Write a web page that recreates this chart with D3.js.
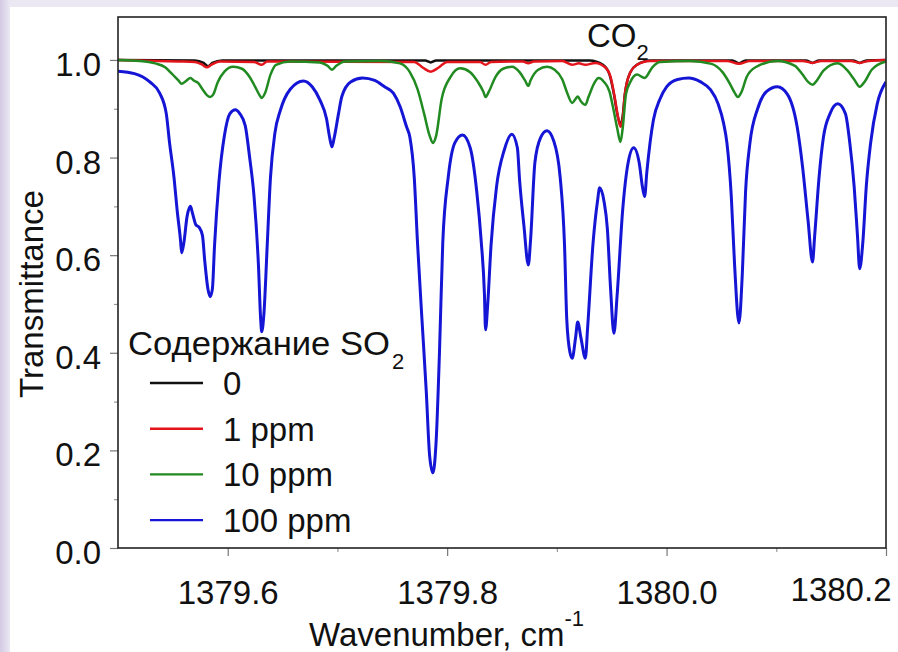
<!DOCTYPE html>
<meta charset="utf-8">
<style>
body { margin: 0; }
text { font-family: "Liberation Sans", Arial, sans-serif; fill: #111; }
.tick text { font-size: 33px; }
</style>
<body>
<script src="https://cdn.jsdelivr.net/npm/d3@7"></script>
<script>
// transmittance: [wavenumber, T]
const black0 = [[1379.500,1.0],[1379.570,0.999],[1379.578,0.994],[1379.582,0.987],[1379.586,0.994],[1379.595,0.999],[1379.780,0.999],[1379.785,0.995],[1379.790,0.999],[1379.930,0.999],[1379.942,0.99],[1379.948,0.97],[1379.952,0.93],[1379.955,0.89],[1379.958,0.868],[1379.960,0.885],[1379.962,0.93],[1379.967,0.975],[1379.973,0.99],[1379.985,0.999],[1380.060,0.999],[1380.066,0.993],[1380.072,0.999],[1380.127,0.999],[1380.133,0.994],[1380.139,0.999],[1380.170,0.999],[1380.176,0.994],[1380.182,0.999],[1380.200,1.0]];

const red1 = [[1379.500,1.0],[1379.555,0.997],[1379.570,0.996],[1379.577,0.99],[1379.581,0.985],[1379.585,0.99],[1379.593,0.997],[1379.624,0.996],[1379.631,0.99],[1379.636,0.997],[1379.770,0.996],[1379.778,0.984],[1379.785,0.976],[1379.792,0.984],[1379.800,0.996],[1379.830,0.996],[1379.835,0.99],[1379.840,0.996],[1379.869,0.997],[1379.874,0.993],[1379.879,0.997],[1379.905,0.998],[1379.914,0.99],[1379.920,0.993],[1379.926,0.99],[1379.935,0.994],[1379.944,0.985],[1379.949,0.965],[1379.953,0.92],[1379.956,0.88],[1379.958,0.863],[1379.960,0.88],[1379.962,0.93],[1379.967,0.975],[1379.973,0.99],[1379.985,0.998],[1380.055,0.998],[1380.066,0.992],[1380.076,0.998],[1380.124,0.998],[1380.133,0.994],[1380.141,0.998],[1380.168,0.998],[1380.176,0.994],[1380.184,0.998],[1380.200,1.0]];

const green10 = [[1379.500,1.0],[1379.520,0.998],[1379.534,0.993],[1379.543,0.985],[1379.549,0.972],[1379.555,0.958],[1379.558,0.951],[1379.562,0.957],[1379.566,0.963],[1379.569,0.958],[1379.573,0.953],[1379.577,0.94],[1379.581,0.928],[1379.584,0.924],[1379.587,0.93],[1379.591,0.955],[1379.597,0.976],[1379.605,0.986],[1379.613,0.982],[1379.620,0.965],[1379.625,0.945],[1379.629,0.928],[1379.631,0.922],[1379.634,0.932],[1379.639,0.97],[1379.644,0.99],[1379.657,0.997],[1379.684,0.995],[1379.691,0.988],[1379.695,0.98],[1379.699,0.988],[1379.707,0.997],[1379.739,0.998],[1379.757,0.993],[1379.766,0.975],[1379.773,0.94],[1379.779,0.89],[1379.784,0.845],[1379.787,0.83],[1379.790,0.845],[1379.795,0.92],[1379.803,0.965],[1379.812,0.983],[1379.821,0.975],[1379.828,0.955],[1379.833,0.935],[1379.835,0.924],[1379.838,0.935],[1379.844,0.965],[1379.851,0.982],[1379.859,0.986],[1379.866,0.975],[1379.871,0.958],[1379.874,0.947],[1379.876,0.958],[1379.883,0.98],[1379.891,0.986],[1379.898,0.98],[1379.905,0.96],[1379.909,0.935],[1379.914,0.912],[1379.917,0.92],[1379.919,0.925],[1379.922,0.915],[1379.926,0.908],[1379.929,0.925],[1379.934,0.952],[1379.938,0.963],[1379.943,0.955],[1379.948,0.935],[1379.951,0.905],[1379.955,0.86],[1379.958,0.832],[1379.960,0.86],[1379.963,0.93],[1379.967,0.955],[1379.973,0.97],[1379.980,0.963],[1379.987,0.985],[1379.994,0.996],[1380.021,0.998],[1380.041,0.992],[1380.051,0.975],[1380.058,0.95],[1380.062,0.933],[1380.065,0.924],[1380.068,0.933],[1380.073,0.965],[1380.081,0.985],[1380.101,0.998],[1380.117,0.988],[1380.124,0.97],[1380.129,0.955],[1380.133,0.949],[1380.136,0.955],[1380.143,0.978],[1380.156,0.993],[1380.165,0.978],[1380.171,0.96],[1380.176,0.945],[1380.181,0.957],[1380.187,0.98],[1380.200,0.997]];

const blue100 = [[1379.500,0.977],[1379.515,0.972],[1379.529,0.955],[1379.538,0.932],[1379.544,0.89],[1379.547,0.83],[1379.551,0.76],[1379.554,0.69],[1379.557,0.63],[1379.558,0.605],[1379.560,0.625],[1379.563,0.68],[1379.566,0.70],[1379.568,0.685],[1379.571,0.662],[1379.574,0.657],[1379.577,0.64],[1379.579,0.59],[1379.582,0.53],[1379.584,0.515],[1379.586,0.53],[1379.588,0.62],[1379.592,0.75],[1379.597,0.845],[1379.602,0.89],[1379.607,0.898],[1379.611,0.89],[1379.616,0.865],[1379.620,0.80],[1379.624,0.72],[1379.628,0.58],[1379.630,0.47],[1379.631,0.443],[1379.633,0.48],[1379.636,0.62],[1379.639,0.76],[1379.643,0.85],[1379.648,0.897],[1379.657,0.94],[1379.669,0.957],[1379.677,0.945],[1379.684,0.918],[1379.690,0.88],[1379.693,0.84],[1379.695,0.822],[1379.697,0.84],[1379.701,0.89],[1379.704,0.925],[1379.712,0.955],[1379.723,0.963],[1379.734,0.958],[1379.743,0.945],[1379.751,0.932],[1379.757,0.905],[1379.763,0.863],[1379.766,0.842],[1379.770,0.76],[1379.773,0.625],[1379.777,0.47],[1379.781,0.32],[1379.784,0.19],[1379.787,0.154],[1379.790,0.22],[1379.793,0.40],[1379.796,0.625],[1379.801,0.76],[1379.807,0.83],[1379.814,0.846],[1379.821,0.82],[1379.827,0.73],[1379.831,0.63],[1379.834,0.52],[1379.835,0.447],[1379.837,0.50],[1379.840,0.62],[1379.845,0.74],[1379.852,0.815],[1379.859,0.848],[1379.864,0.82],[1379.866,0.755],[1379.870,0.66],[1379.874,0.58],[1379.876,0.63],[1379.880,0.79],[1379.885,0.84],[1379.891,0.855],[1379.897,0.835],[1379.903,0.76],[1379.907,0.62],[1379.909,0.47],[1379.912,0.40],[1379.914,0.389],[1379.917,0.43],[1379.919,0.463],[1379.922,0.43],[1379.926,0.389],[1379.928,0.45],[1379.933,0.625],[1379.937,0.71],[1379.939,0.738],[1379.943,0.71],[1379.946,0.655],[1379.949,0.53],[1379.952,0.44],[1379.955,0.52],[1379.960,0.693],[1379.965,0.79],[1379.970,0.82],[1379.975,0.79],[1379.978,0.74],[1379.980,0.72],[1379.982,0.77],[1379.988,0.877],[1379.994,0.92],[1380.000,0.945],[1380.010,0.96],[1380.020,0.963],[1380.031,0.955],[1380.040,0.939],[1380.047,0.91],[1380.052,0.87],[1380.055,0.83],[1380.059,0.72],[1380.062,0.58],[1380.066,0.461],[1380.069,0.56],[1380.072,0.73],[1380.076,0.83],[1380.083,0.90],[1380.091,0.935],[1380.101,0.945],[1380.110,0.93],[1380.119,0.863],[1380.124,0.78],[1380.129,0.67],[1380.133,0.586],[1380.135,0.64],[1380.139,0.76],[1380.143,0.842],[1380.149,0.89],[1380.156,0.91],[1380.163,0.89],[1380.167,0.83],[1380.171,0.74],[1380.174,0.64],[1380.176,0.572],[1380.179,0.63],[1380.182,0.74],[1380.186,0.83],[1380.192,0.91],[1380.200,0.955]];

const seriesNames = ["0", "1 ppm", "10 ppm", "100 ppm"];
const seriesColors = ["#111111", "#e3141b", "#218a21", "#1515d6"];
const seriesData = [black0, red1, green10, blue100];

const xMajor = [1379.6, 1379.8, 1380.0, 1380.2];
const xMinor = [1379.7, 1379.9, 1380.1];
const yMajor = [0, 0.2, 0.4, 0.6, 0.8, 1.0];
const yMinor = [0.1, 0.3, 0.5, 0.7, 0.9];

const W = 898, H = 652;
const pLeft = 118, pRight = 886, pTop = 17, pBottom = 548;

const svg = d3.select("body").append("svg")
  .attr("width", W)
  .attr("height", H);

// lavender page behind the white panel
const defs = svg.append("defs");
const grad = defs.append("linearGradient").attr("id", "edge")
  .attr("x1", 0).attr("x2", 1).attr("y1", 0).attr("y2", 0);
grad.append("stop").attr("offset", "0%").attr("stop-color", "#d3cae4");
grad.append("stop").attr("offset", "100%").attr("stop-color", "#ebe8f3");
svg.append("rect").attr("width", W).attr("height", H).attr("fill", "#ebe8f3");
svg.append("rect").attr("width", 10).attr("height", H).attr("fill", "url(#edge)");
svg.append("rect").attr("x", 10).attr("y", 7).attr("width", W - 10).attr("height", H - 7).attr("fill", "#fff");

defs.append("clipPath").attr("id", "plot")
  .append("rect").attr("x", pLeft).attr("y", pTop).attr("width", pRight - pLeft).attr("height", pBottom - pTop);

const x = d3.scaleLinear().domain([1379.5, 1380.2]).range([pLeft, pRight]);
const y = d3.scaleLinear().domain([0, 1.088]).range([pBottom, pTop]);

const line = d3.line()
  .x(d => x(d[0]))
  .y(d => y(d[1]))
  .curve(d3.curveMonotoneX);

svg.append("g").attr("clip-path", "url(#plot)")
  .selectAll("path")
  .data(seriesData)
  .enter().append("path")
    .attr("d", line)
    .attr("fill", "none")
    .attr("stroke", (d, i) => seriesColors[i])
    .attr("stroke-width", (d, i) => i == 3 ? 3 : 2.5)
    .attr("stroke-linejoin", "round");

// axes
const xAxis = svg.append("g")
  .attr("transform", "translate(0," + pBottom + ")")
  .call(d3.axisBottom(x).tickValues(xMajor).tickSize(8).tickPadding(25).tickFormat(d3.format(".1f")));
xAxis.select(".domain").remove();
xAxis.selectAll(".tick line").attr("stroke", "#777").attr("stroke-width", 1.2);
xAxis.selectAll(".tick text").attr("dy", "0.71em");
xAxis.selectAll(".tick text").filter(d => d == 1380.2)
  .attr("text-anchor", "end").attr("dx", 5).attr("y", 30);

svg.append("g")
  .attr("transform", "translate(0," + pBottom + ")")
  .call(d3.axisBottom(x).tickValues(xMinor).tickSize(4).tickFormat(""))
  .call(g => g.select(".domain").remove())
  .selectAll(".tick line").attr("stroke", "#999").attr("stroke-width", 1.2);

const yAxis = svg.append("g")
  .attr("transform", "translate(" + pLeft + ",0)")
  .call(d3.axisLeft(y).tickValues(yMajor).tickSize(8).tickPadding(9).tickFormat(d3.format(".1f")));
yAxis.select(".domain").remove();
yAxis.selectAll(".tick line").attr("stroke", "#777").attr("stroke-width", 1.2);
yAxis.selectAll(".tick text").attr("dy", "0.47em");

svg.append("g")
  .attr("transform", "translate(" + pLeft + ",0)")
  .call(d3.axisLeft(y).tickValues(yMinor).tickSize(4).tickFormat(""))
  .call(g => g.select(".domain").remove())
  .selectAll(".tick line").attr("stroke", "#999").attr("stroke-width", 1.2);

// frame
svg.append("rect")
  .attr("x", pLeft).attr("y", pTop)
  .attr("width", pRight - pLeft).attr("height", pBottom - pTop)
  .attr("fill", "none").attr("stroke", "#222").attr("stroke-width", 1.6);

// axis titles
const xt = svg.append("text").attr("x", 309).attr("y", 646).style("font-size", "33px");
xt.append("tspan").text("Wavenumber, cm");
xt.append("tspan").attr("dy", -20).style("font-size", "22px").text("-1");

svg.append("text")
  .attr("transform", "translate(43,294) rotate(-90)")
  .attr("text-anchor", "middle")
  .style("font-size", "33px")
  .text("Transmittance");

// CO2 label
const co = svg.append("text").attr("x", 587).attr("y", 47).style("font-size", "33px");
co.append("tspan").text("CO");
co.append("tspan").attr("dy", 13).style("font-size", "22px").text("2");

// legend
const lt = svg.append("text").attr("x", 128).attr("y", 355).style("font-size", "33px");
lt.append("tspan").attr("textLength", 262).attr("lengthAdjust", "spacingAndGlyphs").text("Содержание SO");
lt.append("tspan").attr("x", 392).attr("dy", 14).style("font-size", "22px").text("2");

const legend = svg.append("g").selectAll("g")
  .data(seriesNames)
  .enter().append("g")
    .attr("transform", (d, i) => "translate(0," + (383 + i * 45.7) + ")");
legend.append("line")
  .attr("x1", 150).attr("x2", 203)
  .attr("stroke", (d, i) => seriesColors[i])
  .attr("stroke-width", 2.4);
legend.append("text")
  .attr("x", 223).attr("y", 12)
  .style("font-size", "33px")
  .text(d => d);
</script>
</body>
